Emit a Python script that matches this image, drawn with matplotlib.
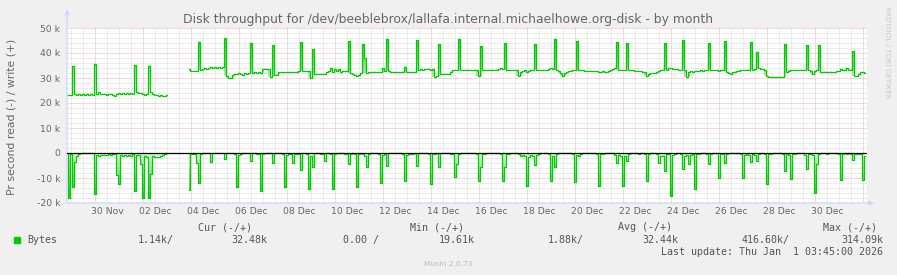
import numpy as np
import matplotlib.pyplot as plt
from matplotlib.path import Path
from matplotlib.colors import LinearSegmentedColormap

# hours after 30 Nov 00:00, one sample every 2 hours (values in k bytes/s)
start_a = -28
write_a = [23.2, 23.4, 23.3, 34.8, 23.6, 23.4, 23.5, 23.4, 23.5, 23.3,
           23.5, 23.4, 23.5, 23.4, 35.7, 23.6, 24.4, 23.6, 23.5, 23.5,
           23.4, 23.5, 23.6, 23.4, 22.9, 23.6, 24.1, 23.8, 24.2, 23.7,
           24.0, 23.6, 23.9, 23.5, 35.2, 24.3, 23.9, 24.2, 23.6, 23.2,
           23.5, 35.0, 24.4, 23.6, 23.2, 23.4, 22.8, 23.1, 22.7, 23.0,
           23.1]
read_a = [0, -17.8, -0.5, -13.7, -3.5, -1.0, -0.3, 0, 0, 0,
          0, 0, 0, 0, -16.5, -0.8, -1.0, -0.6, -0.9, -0.7,
          -0.7, -0.5, -0.6, -0.5, -0.4, -8.7, -12.4, -0.8, -1.2, -0.6,
          -1.3, -0.7, -1.0, -0.5, -15.3, -0.7, -0.8, -4.5, -18.1, -1.2,
          -1.4, -18.0, -8.5, -1.3, -1.4, -1.4, -1.4, -1.3, -0.8, -0.2,
          0]

start_b = 94
write_b = [33.5, 33.0, 32.9, 32.9, 33.0, 44.5, 33.2, 33.6, 33.9, 33.8,
           34.0, 34.3, 34.2, 34.3, 34.1, 34.3, 34.2, 34.4, 45.9, 30.8,
           29.9, 30.2, 31.4, 31.8, 31.5, 32.1, 31.6, 31.4, 32.0, 31.7,
           31.9, 44.1, 32.1, 32.2, 32.0, 32.2, 32.1, 33.6, 33.8, 33.7,
           33.5, 30.5, 43.2, 31.2, 31.4, 32.3, 32.3, 32.2, 32.4, 32.3,
           32.3, 32.5, 32.3, 32.4, 32.6, 32.9, 44.4, 32.8, 32.9, 32.7,
           32.8, 30.1, 41.6, 31.5, 31.5, 31.6, 31.5, 31.7, 31.6, 32.3,
           32.8, 33.9, 32.6, 33.8, 32.9, 33.6, 32.4, 33.0, 32.7, 33.0,
           44.8, 31.9, 31.5, 31.3, 30.8, 31.4, 31.9, 43.6, 38.0, 32.0,
           32.4, 32.5, 32.3, 32.6, 32.4, 32.5, 32.3, 33.9, 32.9, 45.5,
           33.0, 32.4, 32.3, 32.2, 32.5, 32.3, 32.4, 32.6, 34.5, 32.3,
           32.2, 32.3, 32.4, 32.5, 45.2, 33.4, 33.5, 33.3, 33.6, 33.5,
           33.8, 33.4, 33.6, 30.5, 30.8, 43.6, 31.8, 31.6, 31.5, 31.7,
           31.6, 32.6, 33.1, 33.2, 33.2, 45.5, 33.2, 33.1, 33.2, 33.3,
           33.2, 33.1, 33.2, 33.3, 33.2, 30.8, 42.8, 33.2, 33.1, 33.2,
           33.3, 33.2, 33.3, 33.2, 33.4, 33.6, 33.9, 33.5, 43.9, 33.2,
           33.3, 33.2, 33.1, 33.2, 33.3, 30.8, 32.5, 32.8, 33.2, 32.5,
           33.0, 33.2, 33.1, 43.6, 33.2, 33.1, 33.2, 33.3, 33.1, 33.2,
           33.6, 33.9, 33.7, 45.5, 33.2, 32.8, 31.9, 30.8, 31.9, 32.4,
           32.8, 33.0, 33.2, 33.1, 44.7, 33.2, 33.1, 33.2, 33.0, 32.9,
           32.8, 32.9, 32.8, 32.8, 32.7, 32.6, 32.5, 32.8, 32.5, 32.6,
           32.9, 33.2, 33.5, 33.9, 44.4, 33.2, 33.3, 33.2, 33.2, 43.9,
           33.2, 33.1, 33.2, 33.0, 32.9, 32.9, 32.8, 32.6, 32.5, 30.8,
           31.6, 31.9, 32.0, 32.1, 32.3, 32.8, 33.2, 33.4, 43.9, 33.2,
           33.9, 33.9, 33.8, 33.6, 33.5, 33.2, 33.3, 45.2, 33.2, 30.5,
           32.5, 32.8, 32.6, 32.8, 32.9, 33.0, 33.1, 33.0, 33.2, 33.2,
           43.9, 33.2, 33.1, 33.2, 33.1, 33.0, 33.2, 33.1, 44.7, 32.5,
           32.1, 31.6, 32.3, 32.6, 32.8, 33.0, 33.2, 33.1, 33.2, 33.3,
           33.4, 44.4, 33.2, 33.6, 40.4, 33.9, 33.7, 33.5, 33.2, 31.0,
           30.5, 30.3, 30.5, 30.4, 30.5, 30.4, 30.6, 30.5, 43.6, 32.6,
           33.0, 33.2, 33.1, 33.2, 33.1, 33.2, 33.3, 33.2, 33.3, 43.2,
           33.2, 32.9, 31.6, 33.0, 33.2, 43.2, 32.6, 32.5, 32.6, 32.5,
           32.4, 32.6, 32.5, 32.5, 32.7, 32.9, 33.6, 33.1, 33.4, 33.9,
           33.2, 33.4, 40.8, 30.8, 30.8, 31.6, 32.2, 32.5, 32.1]
read_b = [-14.7, -0.5, -0.3, -0.4, -4.0, -12.1, -0.5, 0, 0, 0,
          0, -3.5, 0, 0, 0, 0, 0, 0, -2.5, 0,
          0, 0, 0, -0.4, -13.7, -0.6, -0.3, 0, 0, 0,
          0, -3.2, 0, 0, -0.3, -0.5, -15.1, -0.4, 0, 0,
          0, 0, -4.1, 0, 0, 0, 0, -0.4, -13.7, -0.6,
          -0.3, -0.5, -4.0, -0.4, -0.2, -0.5, -6.8, 0, 0, -0.3,
          -14.5, -1.0, -5.4, 0, 0, 0, -0.5, -0.3, -3.3, 0,
          0, -0.4, -14.5, -0.5, 0, 0, 0, 0, -0.3, -0.5,
          -4.3, -0.3, 0, -0.4, -13.7, -0.5, 0, -0.3, -1.0, -5.4,
          -0.3, 0, 0, 0, 0, -0.4, -11.9, -0.6, -0.3, -5.0,
          0, 0, 0, 0, 0, 0, 0, -0.3, -11.1, -0.8,
          -0.5, -0.3, -0.4, 0, -5.0, 0, 0, 0, 0, 0,
          -0.3, -12.4, -0.5, -0.2, 0, -5.4, 0, 0, 0, 0,
          0, -0.3, -0.5, -9.4, -4.4, -0.5, 0, 0, 0, 0,
          0, 0, 0, 0, -0.4, -11.1, -5.5, -0.5, -0.2, 0,
          0, 0, 0, 0, 0, 0, -0.4, -11.1, -5.5, -0.5,
          -0.3, 0, 0, 0, 0, -0.3, -1.0, -0.8, -1.2, -13.3,
          -1.5, -0.8, -1.0, -4.8, -0.8, -0.3, 0, 0, 0, 0,
          -0.3, -11.1, -1.0, -5.7, -0.3, 0, 0, 0, 0, 0,
          0, 0, -0.3, -11.5, -0.8, -1.0, -0.3, 0, 0, 0,
          0, 0, 0, 0, -0.3, -13.2, -0.5, -0.3, 0, 0,
          0, 0, 0, -0.8, -4.0, -0.8, -1.0, -13.2, -1.2, -3.0,
          -0.4, 0, 0, 0, 0, -0.5, 0, 0, -0.3, -11.1,
          -0.4, 0, 0, 0, -0.4, -4.0, -1.0, -1.2, -7.3, -0.5,
          -0.4, -17.1, -0.6, -0.3, 0, 0, -0.5, -6.4, -1.0, -0.6,
          -4.4, -0.8, -0.5, -14.2, -0.5, -0.3, 0, 0, 0, -0.5,
          -4.4, -0.4, 0, 0, 0, -10.0, -0.5, -0.4, -4.0, -0.3,
          0, 0, 0, 0, 0, 0, -0.3, -10.0, -0.8, -0.5,
          -0.8, -3.5, -0.4, -0.6, -3.0, -0.3, 0, 0, -0.3, -12.4,
          -0.5, -0.3, 0, 0, 0, 0, 0, -0.4, -7.3, -0.5,
          -0.8, -10.3, -0.5, -0.3, 0, 0, 0, 0, -0.6, -6.4,
          -0.5, -0.4, -0.6, -15.9, -4.4, -0.5, 0, 0, 0, -0.5,
          0, 0, 0, 0, 0, -0.5, -10.8, -0.3, 0, -0.4,
          0, -0.3, -2.7, -0.5, -0.3, -0.5, -0.3, -10.8, -1.0]

day_labels = ['30 Nov', '02 Dec', '04 Dec', '06 Dec', '08 Dec', '10 Dec',
              '12 Dec', '14 Dec', '16 Dec', '18 Dec', '20 Dec', '22 Dec',
              '24 Dec', '26 Dec', '28 Dec', '30 Dec']
y_ticks = [-20000, -10000, 0, 10000, 20000, 30000, 40000, 50000]

legend_heads = ['Cur (-/+)', 'Min (-/+)', 'Avg (-/+)', 'Max (-/+)']
legend_vals = ['1.14k/', '32.48k', '0.00 /', '19.61k',
               '1.88k/', '32.44k', '416.60k/', '314.09k']

GREEN = '#00CC00'
TXT = '#666666'
W, H = 897, 275

fig = plt.figure(figsize=(W / 100, H / 100), dpi=100, facecolor='#F0F0F0')
ax = fig.add_axes([67 / W, 72 / H, 800 / W, 175 / H])
ax.set_facecolor('white')
for s in ax.spines.values():
    s.set_visible(False)

# grid, rrdtool style dotted
dot = (0, (1, 1))
for h in range(-24, 772, 12):
    major = h % 48 == 0
    ax.axvline(h, color='#EDB4B4' if major else '#DADADA', lw=0.72, ls=dot, zorder=1)
for v in range(-20000, 50001, 2000):
    major = v % 10000 == 0
    ax.axhline(v, color='#EDB4B4' if major else '#DADADA', lw=0.72, ls=dot, zorder=1)

# light gradient inside spikes and dips
up_cmap = LinearSegmentedColormap.from_list('up', ['#D8F6D8', '#40CC40'])
dn_cmap = LinearSegmentedColormap.from_list('dn', ['#D8F6D8', '#30C430'])
fills_up, fills_dn = [], []

for start, wr, rd in [(start_a, write_a, read_a), (start_b, write_b, read_b)]:
    wr = np.array(wr) * 1000
    rd = np.array(rd) * 1000
    hrs = start + 2 * np.arange(len(wr))
    nb = np.minimum(np.r_[wr[0], wr[:-1]], np.r_[wr[1:], wr[-1]])
    fills_up.append(ax.fill_between(hrs, wr, np.minimum(wr, nb), step='mid', lw=0, alpha=0))
    ax.plot(hrs, wr, color=GREEN, lw=0.9, drawstyle='steps-mid', zorder=3)
    hrs = start + 2 * np.arange(len(rd))
    fills_dn.append(ax.fill_between(hrs, rd, 0, step='mid', lw=0, alpha=0))
    ax.plot(hrs, rd, color=GREEN, lw=0.9, drawstyle='steps-mid', zorder=3)

grad = np.linspace(0, 1, 256).reshape(-1, 1)
for coll, cmap, ext in [(fills_up, up_cmap, (-28, 772, 24000, 46000)),
                        (fills_dn, dn_cmap, (-28, 772, 0, -18000))]:
    paths = [p for c in coll for p in c.get_paths()]
    im = ax.imshow(grad, cmap=cmap, aspect='auto', extent=ext, origin='lower',
                   zorder=2, interpolation='bilinear')
    im.set_clip_path(Path.make_compound_path(*paths), transform=ax.transData)
ax.set_xlim(-28, 772)
ax.set_ylim(-20000, 50000)

ax.axhline(0, color='black', lw=0.9, zorder=4)

# axes arrows
arr = dict(arrowstyle='-|>', color='#CFD6F8', lw=0.9, mutation_scale=7, shrinkA=0, shrinkB=0)
ax.annotate('', xy=(0, 1.105), xytext=(0, 0), xycoords='axes fraction', arrowprops=arr)
ax.annotate('', xy=(1.009, 0), xytext=(0, 0), xycoords='axes fraction', arrowprops=arr)

ax.set_xticks(12 + 48 * np.arange(len(day_labels)))
ax.set_xticklabels(day_labels)
ax.set_yticks(y_ticks)
ax.set_yticklabels([f'{v // 1000} k' if v else '0' for v in y_ticks])
ax.tick_params(axis='both', length=0, labelsize=6.7, labelcolor=TXT)
ax.tick_params(axis='x', pad=3)
ax.tick_params(axis='y', pad=5)

fig.text(448 / W, 1 - 19 / H, 'Disk throughput for /dev/beeblebrox/lallafa.internal.michaelhowe.org-disk - by month',
         ha='center', va='center', fontsize=8.9, color=TXT)
fig.text(12 / W, 1 - 117 / H, 'Pr second read (-) / write (+)', rotation=90,
         ha='center', va='center', fontsize=7.8, color=TXT)
fig.text(887 / W, 1 - 52 / H, 'RRDTOOL / TOBI OETIKER', rotation=270,
         ha='center', va='center', fontsize=5.2, color='#C8C8C8')

mono = dict(family='DejaVu Sans Mono', fontsize=7.2, color='#555555', va='center')
for xc, t in zip([225, 437, 645, 850], legend_heads):
    fig.text(xc / W, 1 - 227 / H, t, ha='center', **mono)
fig.patches.append(plt.Rectangle((14 / W, 1 - 243 / H), 6 / W, 6 / H,
                                 transform=fig.transFigure, color=GREEN))
fig.text(27 / W, 1 - 240 / H, 'Bytes', ha='left', **mono)
for xr, t in zip([174, 267, 379, 475, 584, 678, 790, 883], legend_vals):
    fig.text(xr / W, 1 - 240 / H, t, ha='right', **mono)
fig.text(883 / W, 1 - 252 / H, 'Last update: Thu Jan  1 03:45:00 2026', ha='right', **mono)
fig.text(448 / W, 1 - 264 / H, 'Munin 2.0.73', ha='center', va='center',
         fontsize=5.3, color='#BBBBBB')

fig.savefig('out.png', dpi=100, facecolor=fig.get_facecolor())
